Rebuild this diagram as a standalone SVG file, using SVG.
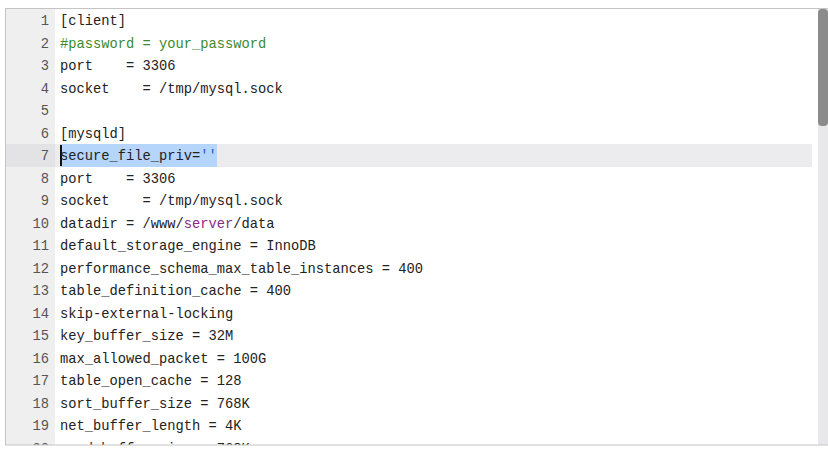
<svg xmlns="http://www.w3.org/2000/svg" width="828" height="457" viewBox="0 0 828 457">
<style>
.c{font-family:"Liberation Mono","DejaVu Sans Mono",monospace;font-size:13.75px;fill:#222;white-space:pre}
.n{font-family:"Liberation Mono","DejaVu Sans Mono",monospace;font-size:13.75px;fill:#555;text-anchor:end}
.cm{fill:#3c8a2e}
.kw{fill:#8a2b8a}
.st{fill:#3355cc}
</style>
<defs><clipPath id="clip"><rect x="6" y="9" width="812" height="436"/></clipPath></defs>
<rect x="0" y="0" width="828" height="457" fill="#fff"/>
<g id="editor" clip-path="url(#clip)">
<rect x="6" y="9" width="49" height="436" fill="#efeff0"/>
<rect x="55" y="144" width="757" height="23" fill="#ececef"/>
<rect x="6" y="144" width="49" height="23" fill="#e3e3e6"/>
<rect x="60" y="144" width="157" height="23" fill="#b5d5fb"/>
<rect x="60" y="145" width="2" height="21" fill="#111"/>
<g id="gutter">
<text class="n" x="49" y="25">1</text>
<text class="n" x="49" y="47.5">2</text>
<text class="n" x="49" y="70">3</text>
<text class="n" x="49" y="92.5">4</text>
<text class="n" x="49" y="115">5</text>
<text class="n" x="49" y="137.5">6</text>
<text class="n" x="49" y="160">7</text>
<text class="n" x="49" y="182.5">8</text>
<text class="n" x="49" y="205">9</text>
<text class="n" x="49" y="227.5">10</text>
<text class="n" x="49" y="250">11</text>
<text class="n" x="49" y="272.5">12</text>
<text class="n" x="49" y="295">13</text>
<text class="n" x="49" y="317.5">14</text>
<text class="n" x="49" y="340">15</text>
<text class="n" x="49" y="362.5">16</text>
<text class="n" x="49" y="385">17</text>
<text class="n" x="49" y="407.5">18</text>
<text class="n" x="49" y="430">19</text>
<text class="n" x="49" y="452.5">20</text>
</g>
<g id="code">
<text class="c" x="60" y="25">[client]</text>
<text class="c cm" x="60" y="47.5">#password = your_password</text>
<text class="c" x="60" y="70">port    = 3306</text>
<text class="c" x="60" y="92.5">socket    = /tmp/mysql.sock</text>
<text class="c" x="60" y="137.5">[mysqld]</text>
<text class="c" x="60" y="160">secure_file_priv=<tspan class="st">''</tspan></text>
<text class="c" x="60" y="182.5">port    = 3306</text>
<text class="c" x="60" y="205">socket    = /tmp/mysql.sock</text>
<text class="c" x="60" y="227.5">datadir = /www/<tspan class="kw">server</tspan>/data</text>
<text class="c" x="60" y="250">default_storage_engine = InnoDB</text>
<text class="c" x="60" y="272.5">performance_schema_max_table_instances = 400</text>
<text class="c" x="60" y="295">table_definition_cache = 400</text>
<text class="c" x="60" y="317.5">skip-external-locking</text>
<text class="c" x="60" y="340">key_buffer_size = 32M</text>
<text class="c" x="60" y="362.5">max_allowed_packet = 100G</text>
<text class="c" x="60" y="385">table_open_cache = 128</text>
<text class="c" x="60" y="407.5">sort_buffer_size = 768K</text>
<text class="c" x="60" y="430">net_buffer_length = 4K</text>
<text class="c" x="60" y="452.5">read_buffer_size = 768K</text>
</g>
</g>
<g id="scrollbar">
<rect x="818" y="9" width="10" height="436" fill="#e8e7ea"/>
<rect x="818" y="9" width="10" height="117" rx="4" fill="#8b8b8b"/>
</g>
<rect id="frame" x="5.5" y="8.5" width="824" height="436.5" fill="none" stroke="#c4c4c4" stroke-width="1"/>
</svg>
